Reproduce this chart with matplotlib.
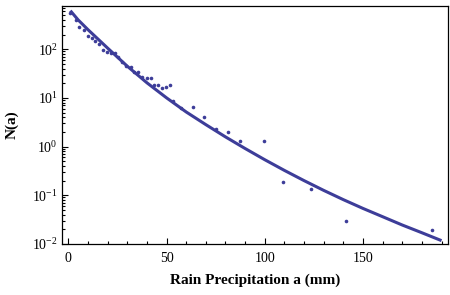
import matplotlib
matplotlib.use("Agg")
import matplotlib.pyplot as plt
from matplotlib.ticker import LogLocator, MultipleLocator, NullFormatter

plt.rcParams['font.family'] = ['Liberation Serif', 'DejaVu Serif']
plt.rcParams['mathtext.fontset'] = 'custom'
plt.rcParams['mathtext.rm'] = 'Liberation Serif'
plt.rcParams['mathtext.it'] = 'Liberation Serif:italic'

# Observed counts per precipitation bin
rain_mm = [1.0, 3.8, 5.6, 7.8, 9.9, 11.9, 13.8, 15.6, 17.8, 19.7,
           21.8, 23.8, 25.5, 27.5, 29.4, 31.8, 33.5, 35.5, 37.7, 39.9,
           42.0, 43.8, 45.8, 47.7, 49.6, 51.7, 53.3, 57.4, 63.7, 69.3,
           75.2, 81.5, 87.5, 99.5, 109.5, 123.3, 141.3, 184.9]
counts = [549, 400, 283, 245, 188, 171, 146, 127, 97, 88,
          85, 83, 68, 54, 46, 44, 34, 34, 27, 26,
          25, 18.3, 18.8, 15.8, 16.6, 18.8, 8.5, 6.2, 6.4, 4.0,
          2.3, 2.0, 1.3, 1.3, 0.19, 0.135, 0.030, 0.019]

# Fitted curve
fit_x = [1, 5, 10, 20, 30, 40, 50, 60, 70, 80, 90, 100,
         110, 120, 130, 140, 150, 160, 170, 180, 190]
fit_y = [617, 398, 251, 105, 44.7, 20.4, 10.0, 5.13, 2.82, 1.58, 0.912, 0.537,
         0.324, 0.200, 0.126, 0.0813, 0.0537, 0.0363, 0.0245, 0.0170, 0.0117]

color = '#3d3d99'

fig = plt.figure(figsize=(4.5, 2.95), dpi=100)
ax = fig.add_axes([0.138, 0.173, 0.858, 0.807])

ax.plot(fit_x, fit_y, color=color, lw=2.2, solid_capstyle='butt')
ax.plot(rain_mm, counts, 'o', color=color, ms=2.6, mec='none')

ax.set_yscale('log')
ax.set_xlim(-3.2, 193.4)
ax.set_ylim(0.01, 774)

ax.xaxis.set_major_locator(MultipleLocator(50))
ax.xaxis.set_minor_locator(MultipleLocator(10))
ax.yaxis.set_major_locator(LogLocator(base=10, numticks=10))
ax.yaxis.set_minor_locator(LogLocator(base=10, subs=range(2, 10), numticks=10))
ax.yaxis.set_minor_formatter(NullFormatter())

ax.tick_params(which='both', direction='in', top=False, right=False,
               labelsize=10, width=0.8)
ax.tick_params(which='major', length=4)
ax.tick_params(which='minor', length=2)
ax.tick_params(axis='x', pad=6)
ax.tick_params(axis='y', pad=3)

for s in ax.spines.values():
    s.set_linewidth(0.9)

ax.set_xlabel("Rain Precipitation a (mm)", fontsize=11, fontweight='bold', labelpad=6)
ax.set_ylabel("N(a)", fontsize=11, fontweight='bold', labelpad=10)

fig.savefig("out.png", dpi=100)
